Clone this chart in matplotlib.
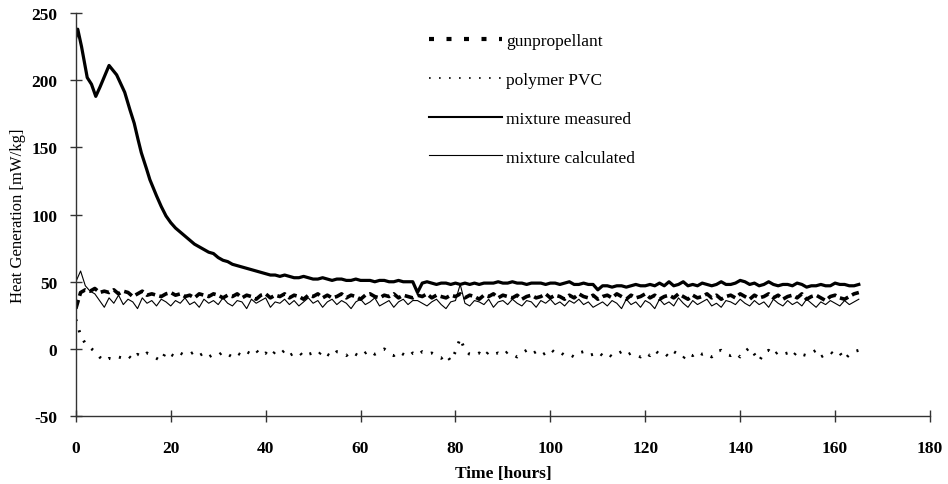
import numpy as np
import matplotlib
matplotlib.use("Agg")
import matplotlib.pyplot as plt
from matplotlib.lines import Line2D

plt.rcParams['font.family'] = ['Liberation Serif', 'DejaVu Serif']
plt.rcParams['axes.unicode_minus'] = False

# Data (hours, mW/kg)
measured_early_t = [0, 0.4, 1.2, 2.4, 3.3, 4.2, 5.1, 7.0, 8.6, 10.3, 11.4, 12.3, 13.1, 13.8, 14.9, 15.6, 17.0]
measured_early_v = [232, 238, 225, 202, 197, 188, 195, 211, 204, 191, 178, 168, 156, 146, 134, 126, 114]
# hourly from t = 18
measured_late_v = [
    106, 99, 94, 90, 87, 84, 81, 78, 76, 74,
    72, 71, 68, 66, 65, 63, 62, 61, 60, 59,
    58, 57, 56, 55, 55, 54, 55, 54, 53, 53,
    54, 53, 52, 52, 53, 52, 51, 52, 52, 51,
    51, 52, 51, 51, 51, 50, 51, 51, 50, 50,
    51, 50, 50, 50, 42, 49, 50, 49, 48, 49,
    49, 48, 49, 48, 49, 48, 49, 48, 49, 49,
    49, 50, 49, 49, 50, 49, 49, 48, 49, 49,
    49, 48, 49, 49, 48, 49, 50, 48, 48, 49,
    48, 48, 44, 47, 47, 46, 47, 47, 46, 47,
    48, 47, 47, 48, 47, 49, 47, 50, 47, 48,
    50, 47, 48, 47, 49, 48, 47, 48, 50, 48,
    48, 49, 51, 50, 48, 49, 47, 48, 50, 48,
    47, 48, 48, 47, 49, 48, 46, 47, 47, 48,
    47, 47, 49, 48, 48, 47, 47, 48,
]

# hourly from t = 0
gunpropellant = [
    30, 42, 44, 43, 45, 42, 43, 42, 44, 41,
    43, 42, 39, 41, 43, 40, 41, 40, 39, 41,
    42, 40, 41, 39, 40, 38, 41, 40, 39, 41,
    40, 38, 40, 39, 41, 38, 40, 39, 37, 40,
    41, 38, 40, 39, 41, 38, 40, 39, 37, 40,
    39, 41, 38, 40, 38, 39, 41, 38, 40, 39,
    37, 40, 41, 39, 38, 40, 39, 41, 38, 40,
    39, 38, 40, 39, 41, 38, 40, 39, 38, 40,
    39, 41, 38, 40, 39, 37, 40, 39, 41, 38,
    40, 39, 38, 40, 37, 39, 40, 38, 39, 41,
    38, 40, 39, 37, 40, 38, 41, 39, 38, 40,
    37, 39, 40, 38, 41, 39, 37, 40, 38, 39,
    41, 38, 40, 37, 39, 40, 38, 41, 39, 37,
    40, 38, 39, 41, 38, 40, 37, 39, 40, 38,
    41, 39, 37, 40, 38, 39, 41, 38, 40, 37,
    39, 40, 38, 41, 37, 39, 40, 38, 36, 39,
    40, 38, 37, 39, 41, 42,
]

calculated = [
    50, 58, 47, 43, 41, 36, 31, 38, 34, 40,
    33, 37, 35, 30, 38, 34, 36, 32, 37, 35,
    32, 36, 34, 38, 33, 35, 31, 37, 34, 36,
    33, 38, 34, 32, 36, 35, 30, 37, 34, 36,
    38, 31, 35, 34, 37, 33, 36, 32, 35, 38,
    34, 36, 31, 35, 37, 33, 36, 34, 30, 35,
    37, 33, 35, 38, 32, 34, 36, 31, 35, 37,
    33, 36, 36, 34, 32, 35, 37, 33, 30, 35,
    36, 48, 34, 32, 36, 35, 33, 37, 31, 35,
    36, 33, 37, 34, 32, 36, 35, 31, 36, 34,
    37, 33, 35, 32, 36, 34, 37, 33, 35, 31,
    33, 35, 32, 36, 34, 30, 37, 33, 35, 31,
    36, 34, 30, 37, 33, 35, 32, 38, 34, 31,
    36, 33, 35, 37, 32, 34, 31, 36, 35, 33,
    37, 34, 32, 36, 33, 35, 31, 37, 34, 32,
    36, 33, 35, 32, 37, 34, 31, 35, 33, 36,
    34, 32, 36, 33, 35, 37,
]

polymer_pvc = [
    22, 10, 4, 1, -2, -6, -9, -7, -8, -6,
    -7, -5, -8, -4, -6, -3, -5, -7, -9, -2,
    -4, -6, -3, -5, -4, -2, -5, -3, -6, -4,
    -5, -2, -4, -6, -3, -5, -2, -4, -1, -5,
    -3, -6, -2, -4, -1, -5, -3, -2, -6, -4,
    -3, -5, -1, -4, -6, -2, -3, -5, -2, -4,
    -6, -3, -1, -4, -2, 0, -3, -5, -2, -4,
    -6, -3, -5, -2, -4, -3, -5, -7, -4, -9,
    -2, 8, -1, -4, -5, -3, -6, -2, -4, -3,
    -5, -2, -4, -6, -3, -1, -4, -2, -5, -3,
    0, -3, -2, -5, -4, -6, -3, -2, -5, -4,
    -2, -5, -3, -6, -4, -2, -5, -3, -4, -6,
    -3, -5, -1, -4, -3, -6, -2, -4, -7, -3,
    -5, -2, -4, -3, -6, -2, -1, -4, -5, -3,
    -6, -2, 1, -4, -9, -3, -1, -5, -2, -4,
    -3, -6, -2, -4, -5, -3, -1, -6, -4, -2,
    -5, -3, -8, -4, -2, -1,
]

hours = np.arange(len(gunpropellant))
measured_t = np.concatenate([measured_early_t, 18 + np.arange(len(measured_late_v))])
measured_v = np.concatenate([measured_early_v, measured_late_v])

fig = plt.figure(figsize=(9.48, 4.85), dpi=100)
ax = fig.add_axes([0.080, 0.140, 0.901, 0.831])

ax.plot(hours, gunpropellant, color='black', lw=2.6, dashes=(2.5, 1.2))
ax.plot(hours, polymer_pvc, color='black', lw=2.1, dashes=(0.7, 3.2))
ax.plot(measured_t, measured_v, color='black', lw=2.3)
ax.plot(hours, calculated, color='black', lw=0.8)

ax.set_xlim(0, 180)
ax.set_ylim(-50, 250)
ax.set_xticks(range(0, 181, 20))
ax.set_yticks(range(-50, 251, 50))
for s in ['top', 'right']:
    ax.spines[s].set_visible(False)
for s in ['left', 'bottom']:
    ax.spines[s].set_color('#333333')
    ax.spines[s].set_linewidth(1.0)
ax.tick_params(direction='inout', length=9, width=1, colors='#333333', labelcolor='black')
ax.tick_params(axis='x', pad=13)
ax.tick_params(axis='y', pad=9)
for lab in ax.get_xticklabels() + ax.get_yticklabels():
    lab.set_fontsize(12.5)
    lab.set_fontweight('bold')

ax.set_xlabel('Time [hours]', fontsize=12.5, fontweight='bold', labelpad=6)
ax.set_ylabel('Heat Generation [mW/kg]', fontsize=12, labelpad=4)

handles = [
    Line2D([], [], color='black', lw=3, dashes=(1.2, 3)),
    Line2D([], [], color='black', lw=1.2, dashes=(1, 5)),
    Line2D([], [], color='black', lw=1.5),
    Line2D([], [], color='black', lw=0.8),
]
labels = ['gunpropellant', 'polymer PVC', 'mixture measured', 'mixture calculated']
ax.legend(handles, labels, loc='upper left', bbox_to_anchor=(0.414, 0.950), frameon=False,
          fontsize=12.5, handlelength=4.2, handletextpad=0.2, labelspacing=1.3,
          borderpad=0, borderaxespad=0)

fig.savefig('out.png', dpi=100)
